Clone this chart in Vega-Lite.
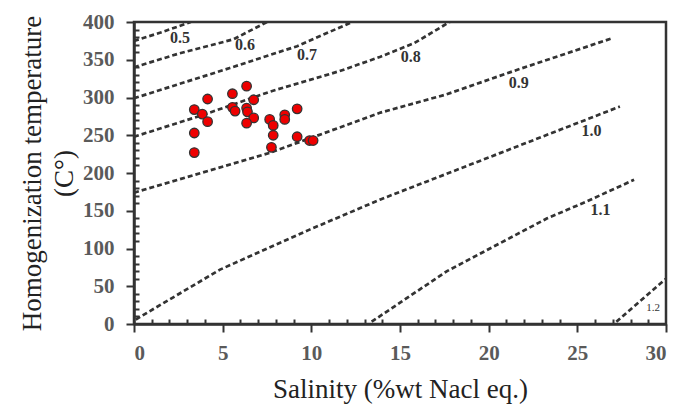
{
  "$schema": "https://vega.github.io/schema/vega-lite/v6.json",
  "width": 532,
  "height": 302,
  "autosize": {"type": "none"},
  "padding": {"left": 134, "top": 22, "right": 11, "bottom": 80},
  "background": "white",
  "config": {
    "view": {"stroke": "#333333", "strokeWidth": 2.5},
    "font": "Liberation Serif, Times New Roman, serif",
    "axis": {
      "grid": false,
      "domainColor": "#333333",
      "domainWidth": 2.5,
      "tickColor": "#333333",
      "tickWidth": 2,
      "labelFont": "Liberation Serif, Times New Roman, serif",
      "labelFontSize": 21,
      "labelFontWeight": "bold",
      "labelColor": "#5a5a5a",
      "titleFont": "Liberation Serif, Times New Roman, serif",
      "titleFontWeight": "normal",
      "titleFontSize": 27,
      "titleColor": "#222222"
    }
  },
  "datasets": {
    "incl": [
      {"s": 3.4, "t": 284}, {"s": 3.85, "t": 278}, {"s": 4.15, "t": 298}, {"s": 4.15, "t": 268},
      {"s": 3.4, "t": 253}, {"s": 3.4, "t": 227}, {"s": 5.55, "t": 305}, {"s": 5.55, "t": 287},
      {"s": 5.7, "t": 282}, {"s": 6.35, "t": 315}, {"s": 6.75, "t": 297}, {"s": 6.35, "t": 286},
      {"s": 6.4, "t": 281}, {"s": 6.75, "t": 273}, {"s": 6.35, "t": 266}, {"s": 7.65, "t": 271},
      {"s": 7.85, "t": 263}, {"s": 7.85, "t": 250}, {"s": 7.75, "t": 234}, {"s": 8.5, "t": 277},
      {"s": 8.5, "t": 271}, {"s": 9.2, "t": 285}, {"s": 9.2, "t": 248}, {"s": 9.9, "t": 243},
      {"s": 10.1, "t": 243}
    ],
    "iso": [
      {"d": "0.5", "s": 0, "t": 375}, {"d": "0.5", "s": 1.5, "t": 386}, {"d": "0.5", "s": 3.2, "t": 400},
      {"d": "0.6", "s": 0, "t": 340}, {"d": "0.6", "s": 2.5, "t": 358}, {"d": "0.6", "s": 5.6, "t": 377}, {"d": "0.6", "s": 7.5, "t": 400},
      {"d": "0.7", "s": 0, "t": 299}, {"d": "0.7", "s": 5.4, "t": 339}, {"d": "0.7", "s": 9.2, "t": 368}, {"d": "0.7", "s": 12.3, "t": 400},
      {"d": "0.8", "s": 0, "t": 248}, {"d": "0.8", "s": 3.9, "t": 277}, {"d": "0.8", "s": 7.7, "t": 308}, {"d": "0.8", "s": 11.6, "t": 335},
      {"d": "0.8", "s": 13.9, "t": 354}, {"d": "0.8", "s": 15.8, "t": 372}, {"d": "0.8", "s": 17.8, "t": 400},
      {"d": "0.9", "s": 0, "t": 174}, {"d": "0.9", "s": 7.7, "t": 227}, {"d": "0.9", "s": 13.9, "t": 280}, {"d": "0.9", "s": 17.6, "t": 304},
      {"d": "0.9", "s": 21.4, "t": 335}, {"d": "0.9", "s": 26.9, "t": 378},
      {"d": "1.0", "s": 0.1, "t": 6}, {"d": "1.0", "s": 4.85, "t": 72}, {"d": "1.0", "s": 9.9, "t": 125}, {"d": "1.0", "s": 13.9, "t": 165},
      {"d": "1.0", "s": 20.6, "t": 226}, {"d": "1.0", "s": 27.4, "t": 288},
      {"d": "1.1", "s": 13.4, "t": 3}, {"d": "1.1", "s": 17.65, "t": 70}, {"d": "1.1", "s": 23.3, "t": 140}, {"d": "1.1", "s": 25.5, "t": 162},
      {"d": "1.1", "s": 28.2, "t": 191},
      {"d": "1.2", "s": 27.2, "t": 3}, {"d": "1.2", "s": 30, "t": 60}
    ],
    "labels": [
      {"d": "0.5", "s": 2.6, "t": 379}, {"d": "0.6", "s": 6.26, "t": 369}, {"d": "0.7", "s": 9.75, "t": 356},
      {"d": "0.8", "s": 15.6, "t": 354}, {"d": "0.9", "s": 21.7, "t": 319}, {"d": "1.0", "s": 25.8, "t": 256},
      {"d": "1.1", "s": 26.3, "t": 151}, {"d": "1.2", "s": 29.27, "t": 21}
    ]
  },
  "layer": [
    {
      "data": {"name": "iso"},
      "mark": {"type": "line", "stroke": "#333333", "strokeWidth": 2.7, "strokeDash": [5, 3], "clip": true},
      "encoding": {
        "x": {"field": "s", "type": "quantitative", "scale": {"domain": [0, 30], "nice": false},
          "axis": {"orient": "bottom", "values": [0, 5, 10, 15, 20, 25, 30], "tickSize": 8, "labelPadding": 10, "title": "Salinity (%wt Nacl eq.)", "titlePadding": 13}},
        "y": {"field": "t", "type": "quantitative", "scale": {"domain": [0, 400], "nice": false},
          "axis": {"orient": "left", "values": [0, 50, 100, 150, 200, 250, 300, 350, 400], "tickSize": 8, "labelPadding": 12, "title": ["Homogenization temperature", "(C°)"], "titlePadding": 4, "titleLineHeight": 32}},
        "detail": {"field": "d", "type": "nominal"}
      }
    },
    {
      "data": {"name": "incl"},
      "mark": {"type": "point", "filled": true, "fill": "#ee0000", "stroke": "#333333", "strokeWidth": 1.3, "size": 90, "opacity": 1},
      "encoding": {
        "x": {"field": "s", "type": "quantitative",
          "axis": {"orient": "bottom", "values": [1,2,3,4,6,7,8,9,11,12,13,14,16,17,18,19,21,22,23,24,26,27,28,29], "tickSize": -5, "labels": false, "domain": false, "title": null}},
        "y": {"field": "t", "type": "quantitative",
          "axis": {"orient": "left", "values": [10,20,30,40,60,70,80,90,110,120,130,140,160,170,180,190,210,220,230,240,260,270,280,290,310,320,330,340,360,370,380,390], "tickSize": -5, "labels": false, "domain": false, "title": null}}
      }
    },
    {
      "data": {"name": "labels"},
      "transform": [{"filter": "datum.d !== '1.2'"}],
      "mark": {"type": "text", "font": "Liberation Serif, Times New Roman, serif", "fontWeight": "bold", "fontSize": 16, "fill": "#333333", "align": "center", "baseline": "middle"},
      "encoding": {
        "x": {"field": "s", "type": "quantitative", "axis": null},
        "y": {"field": "t", "type": "quantitative", "axis": null},
        "text": {"field": "d", "type": "nominal"}
      }
    },
    {
      "data": {"name": "labels"},
      "transform": [{"filter": "datum.d === '1.2'"}],
      "mark": {"type": "text", "font": "Liberation Serif, Times New Roman, serif", "fontSize": 11, "fill": "#333333", "align": "center", "baseline": "middle"},
      "encoding": {
        "x": {"field": "s", "type": "quantitative", "axis": null},
        "y": {"field": "t", "type": "quantitative", "axis": null},
        "text": {"field": "d", "type": "nominal"}
      }
    }
  ],
  "resolve": {"axis": {"x": "independent", "y": "independent"}}
}
